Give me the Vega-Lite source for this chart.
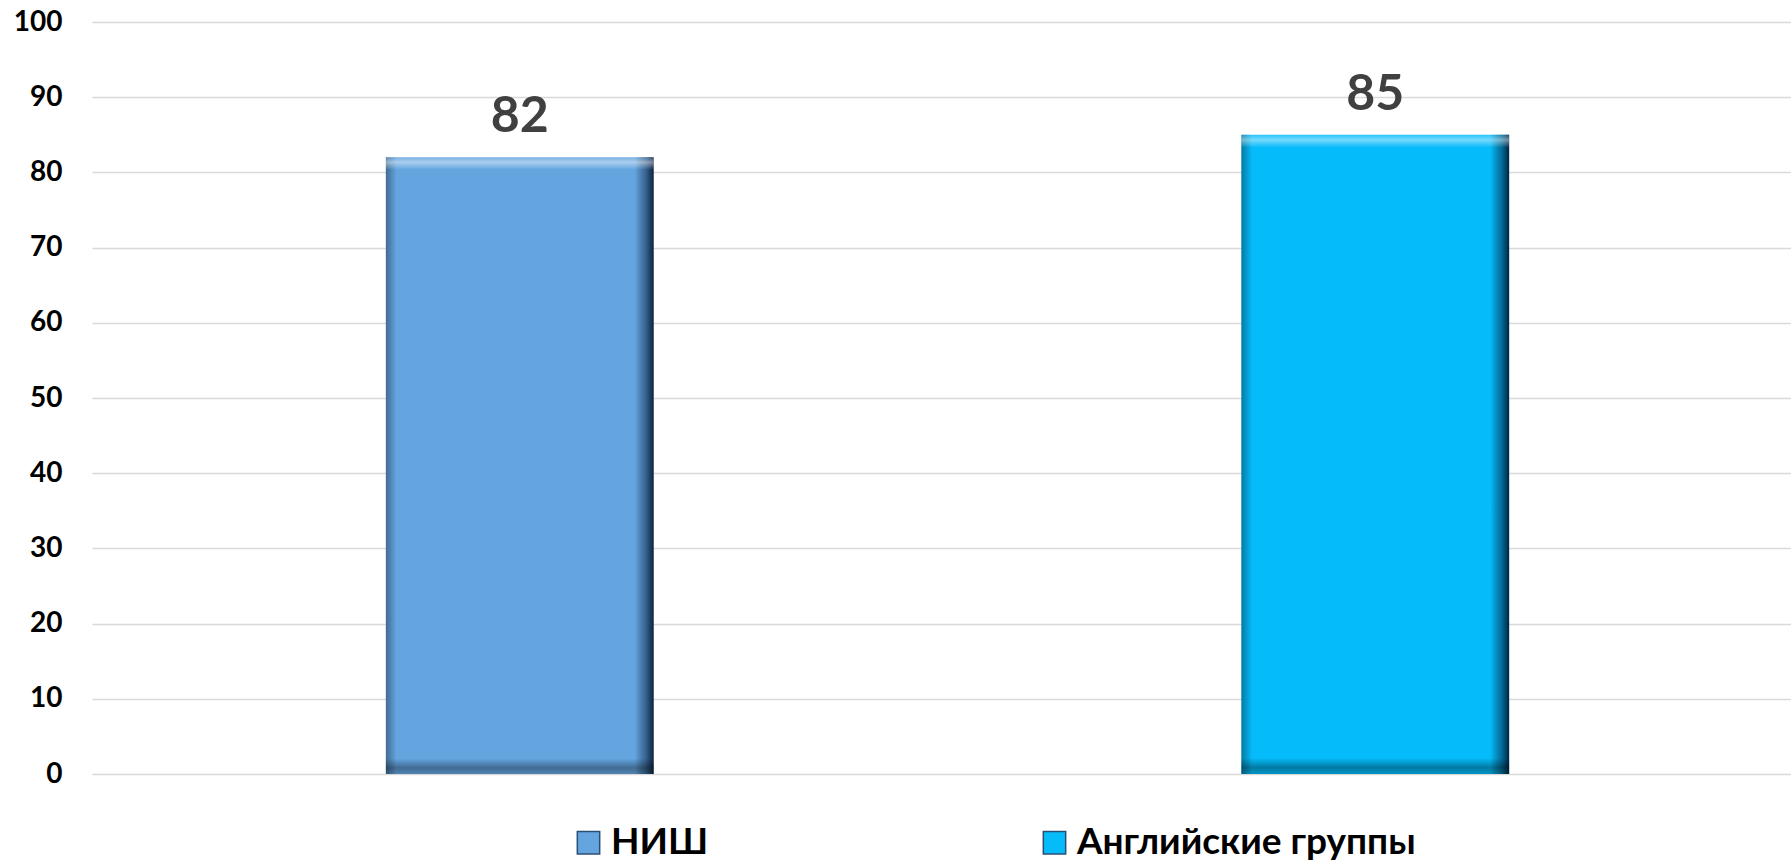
{
  "$schema": "https://vega.github.io/schema/vega-lite/v6.json",
  "autosize": "none",
  "width": 1711,
  "height": 752,
  "padding": {"left": 92, "top": 22, "right": 0, "bottom": 88},
  "background": "white",
  "config": {
    "view": {"stroke": null},
    "font": "Lato"
  },
  "data": {
    "values": [
      {"group": "НИШ", "value": 82},
      {"group": "Английские группы", "value": 85}
    ]
  },
  "encoding": {
    "x": {
      "field": "group",
      "type": "nominal",
      "sort": null,
      "scale": {"paddingInner": 0.687, "paddingOuter": 0.3435},
      "axis": null
    },
    "y": {
      "field": "value",
      "type": "quantitative",
      "scale": {"domain": [0, 100], "nice": false},
      "axis": {
        "values": [0, 10, 20, 30, 40, 50, 60, 70, 80, 90, 100],
        "title": null,
        "domain": false,
        "ticks": false,
        "labelFont": "Lato",
        "labelFontWeight": "bold",
        "labelFontSize": 28,
        "labelColor": "#000000",
        "labelPadding": 30,
        "gridColor": "#d9d9d9",
        "gridWidth": 1.5
      }
    }
  },
  "layer": [
    {
      "mark": {"type": "bar"},
      "encoding": {
        "color": {
          "field": "group",
          "type": "nominal",
          "sort": null,
          "scale": {"domain": ["НИШ", "Английские группы"], "range": ["#64a5e0", "#05bbf9"]},
          "legend": {
            "orient": "none",
            "legendX": 478,
            "legendY": 802,
            "direction": "horizontal",
            "title": null,
            "symbolType": "square",
            "symbolSize": 500,
            "symbolStrokeColor": "#2a4f75",
            "symbolStrokeWidth": 1.5,
            "labelFont": "Lato",
            "labelFontWeight": "bold",
            "labelFontSize": 37,
            "labelColor": "#000000",
            "labelLimit": 600,
            "labelOffset": 4,
            "columnPadding": 327
          }
        }
      }
    },
    {
      "mark": {
        "type": "bar",
        "fill": {
          "gradient": "linear",
          "x1": 0, "y1": 0, "x2": 1, "y2": 0,
          "stops": [
            {"offset": 0, "color": "rgba(0,0,0,0.35)"},
            {"offset": 0.04, "color": "rgba(0,0,0,0)"},
            {"offset": 0.93, "color": "rgba(0,0,0,0)"},
            {"offset": 0.97, "color": "rgba(0,20,50,0.45)"},
            {"offset": 1, "color": "rgba(0,10,30,0.85)"}
          ]
        }
      }
    },
    {
      "mark": {
        "type": "bar",
        "fill": {
          "gradient": "linear",
          "x1": 0, "y1": 0, "x2": 0, "y2": 1,
          "stops": [
            {"offset": 0, "color": "rgba(255,255,255,0.15)"},
            {"offset": 0.008, "color": "rgba(255,255,255,0.45)"},
            {"offset": 0.02, "color": "rgba(255,255,255,0)"},
            {"offset": 0.975, "color": "rgba(0,0,0,0)"},
            {"offset": 0.99, "color": "rgba(0,0,0,0.35)"},
            {"offset": 1, "color": "rgba(0,0,0,0.2)"}
          ]
        }
      }
    },
    {
      "mark": {
        "type": "text",
        "baseline": "alphabetic",
        "dy": -25,
        "font": "Lato",
        "fontWeight": "bold",
        "fontSize": 50,
        "color": "#404040"
      },
      "encoding": {
        "text": {"field": "value", "type": "quantitative"}
      }
    }
  ]
}
